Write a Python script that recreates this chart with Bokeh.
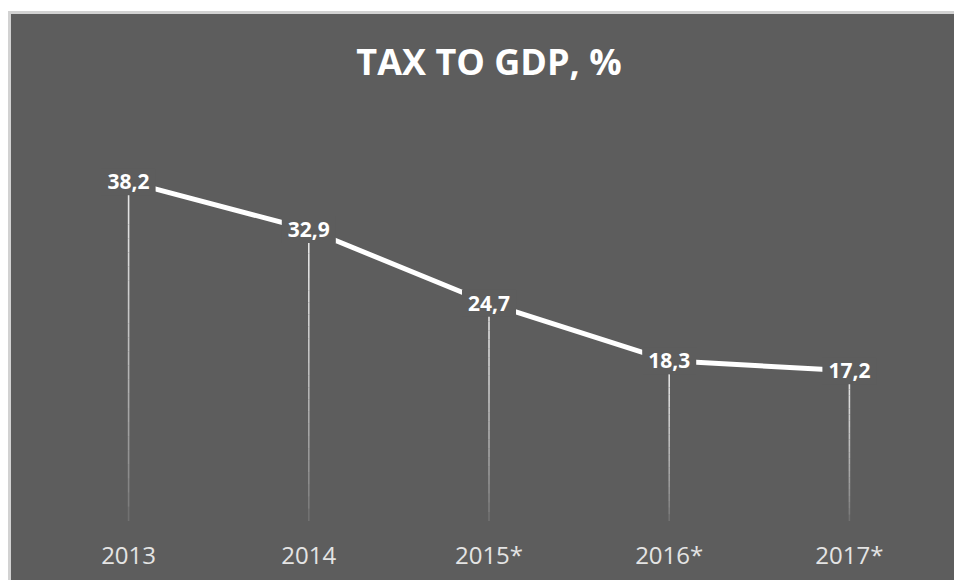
from bokeh.plotting import figure
from bokeh.models import ColumnDataSource, Label
from bokeh.core.properties import value
from bokeh.embed import file_html
from bokeh.resources import INLINE
import numpy as np

years = ["2013", "2014", "2015*", "2016*", "2017*"]
values = [38.2, 32.9, 24.7, 18.3, 17.2]
value_labels = ["38,2", "32,9", "24,7", "18,3", "17,2"]
title_text = "TAX TO GDP, %"

BG = "#5d5d5d"

p = figure(x_range=years, y_range=(0, 56.8), width=946, height=569,
           output_backend="svg", toolbar_location=None, title=None,
           min_border_left=27, min_border_right=18,
           min_border_top=0, min_border_bottom=58,
           background_fill_color=None, border_fill_color=None,
           margin=(11, 0, 0, 8))
p.outline_line_color = None
p.styles = {"border-top": "3px solid #d2d2d2", "border-left": "3px solid #d2d2d2",
            "background-color": BG}

# title placed above the line, centred over the categories
p.add_layout(Label(x=len(years) / 2, y=51.6, text=title_text,
                   text_align="center", text_baseline="middle",
                   text_color="white", text_font="Open Sans",
                   text_font_size="36px", text_font_style="bold"))

p.xgrid.visible = False
p.ygrid.visible = False
p.yaxis.visible = False
p.xaxis.axis_line_color = None
p.xaxis.major_tick_line_color = None
p.xaxis.minor_tick_line_color = None
p.xaxis.major_label_text_color = "#e4e4e4"
p.xaxis.major_label_text_font = "Open Sans"
p.xaxis.major_label_text_font_size = "24px"
p.xaxis.major_label_standoff = 6

# drop lines with a fade toward the bottom
n = 24
xs0, ys0, ys1, alphas = [], [], [], []
for yr, v in zip(years, values):
    edges = np.linspace(v, 0.5, n + 1)
    for i in range(n):
        xs0.append(yr)
        ys0.append(edges[i])
        ys1.append(edges[i + 1])
        alphas.append(0.95 * (1 - i / n) ** 0.6)
drop = ColumnDataSource(dict(x=xs0, y0=ys0, y1=ys1, a=alphas))
p.segment(x0="x", y0="y0", x1="x", y1="y1", source=drop,
          line_color="#f0f0f0", line_width=1.6, line_alpha="a")

p.line(years, values, line_color="white", line_width=5)

lab = ColumnDataSource(dict(x=years, y=values, t=value_labels))
p.text(x="x", y="y", text="t", source=lab, text_align="center",
       text_baseline="middle", text_color="white",
       text_font=value("Open Sans"), text_font_style="bold",
       text_font_size="21px", background_fill_color=BG, padding=6)

open("out.html", "w").write(file_html(p, INLINE))
